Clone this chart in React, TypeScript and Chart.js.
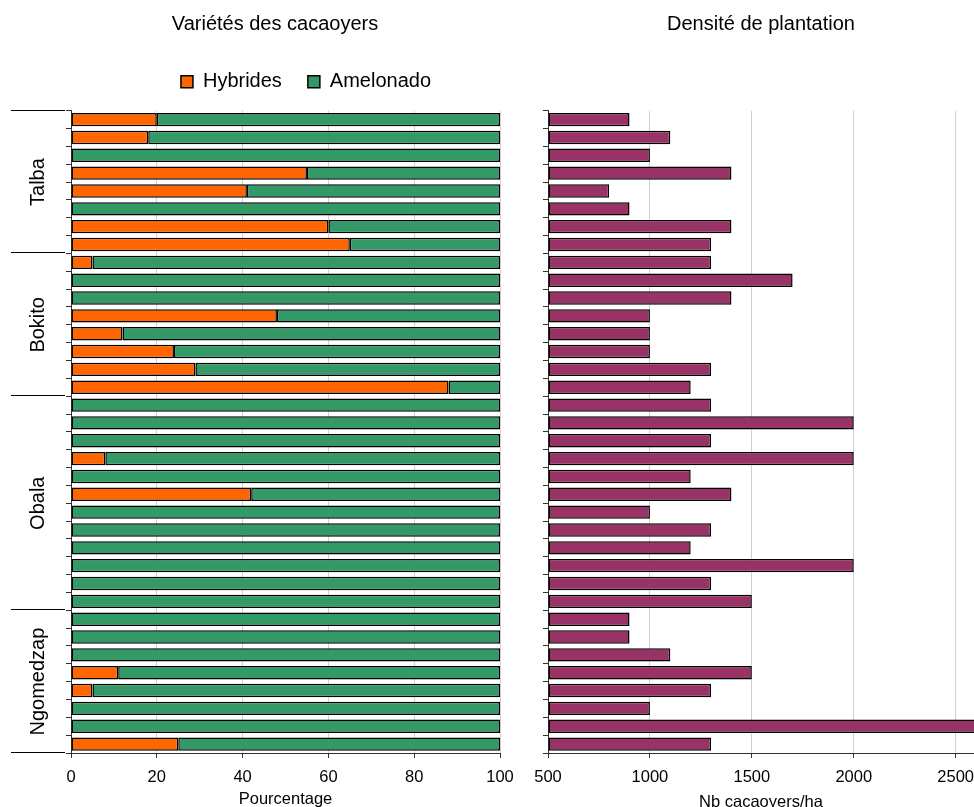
import { useEffect, useRef } from "react";
import { Chart, registerables } from "chart.js";

Chart.register(...registerables);

const FONT = "'Liberation Sans', Arial, Helvetica, sans-serif";
Chart.defaults.font.family = FONT;
Chart.defaults.color = "#000";

// ---- data ----
const groupNames = ["Talba", "Bokito", "Obala", "Ngomedzap"];
const groupSizes = [8, 8, 12, 8];

const categories = [
  "Talba 1", "Talba 2", "Talba 3", "Talba 4", "Talba 5", "Talba 6", "Talba 7", "Talba 8",
  "Bokito 1", "Bokito 2", "Bokito 3", "Bokito 4", "Bokito 5", "Bokito 6", "Bokito 7", "Bokito 8",
  "Obala 1", "Obala 2", "Obala 3", "Obala 4", "Obala 5", "Obala 6", "Obala 7", "Obala 8",
  "Obala 9", "Obala 10", "Obala 11", "Obala 12",
  "Ngomedzap 1", "Ngomedzap 2", "Ngomedzap 3", "Ngomedzap 4", "Ngomedzap 5", "Ngomedzap 6",
  "Ngomedzap 7", "Ngomedzap 8",
];

const hybrides = [
  20, 18, 0, 55, 41, 0, 60, 65,
  5, 0, 0, 48, 12, 24, 29, 88,
  0, 0, 0, 8, 0, 42, 0, 0, 0, 0, 0, 0,
  0, 0, 0, 11, 5, 0, 0, 25,
];

const amelonado = [
  80, 82, 100, 45, 59, 100, 40, 35,
  95, 100, 100, 52, 88, 76, 71, 12,
  100, 100, 100, 92, 100, 58, 100, 100, 100, 100, 100, 100,
  100, 100, 100, 89, 95, 100, 100, 75,
];

const density = [
  900, 1100, 1000, 1400, 800, 900, 1400, 1300,
  1300, 1700, 1400, 1000, 1000, 1000, 1300, 1200,
  1300, 2000, 1300, 2000, 1200, 1400, 1000, 1300, 1200, 2000, 1300, 1500,
  900, 900, 1100, 1500, 1300, 1000, 2700, 1300,
];

const pctTicks = [0, 20, 40, 60, 80, 100];
const densityTicks = [500, 1000, 1500, 2000, 2500];

// ---- plugins ----
const groupPlugin = {
  id: "groupLabels",
  afterDraw(chart: any) {
    const y = chart.scales.y;
    const { ctx, chartArea } = chart;
    ctx.save();
    ctx.strokeStyle = "#000";
    ctx.lineWidth = 1;
    const sep = (idx: number) => {
      const py = Math.round(y.getPixelForValue(idx - 0.5)) - 0.5;
      ctx.beginPath();
      ctx.moveTo(chartArea.left - 60, py);
      ctx.lineTo(chartArea.left - 6, py);
      ctx.stroke();
    };
    let start = 0;
    ctx.fillStyle = "#000";
    ctx.font = `20px ${FONT}`;
    ctx.textAlign = "center";
    ctx.textBaseline = "middle";
    groupNames.forEach((name, g) => {
      sep(start);
      const top = y.getPixelForValue(start - 0.5);
      const bottom = y.getPixelForValue(start + groupSizes[g] - 0.5);
      ctx.save();
      ctx.translate(chartArea.left - 33, (top + bottom) / 2);
      ctx.rotate(-Math.PI / 2);
      ctx.fillText(name, 0, 0);
      ctx.restore();
      start += groupSizes[g];
    });
    sep(start);
    ctx.restore();
  },
};

const legendShift = {
  id: "legendShift",
  afterLayout(chart: any, _args: any, opts: any) {
    const l = chart.legend;
    if (!l) return;
    const dx = opts.dx || 0;
    const dy = opts.dy || 0;
    l.left += dx;
    l.right += dx;
    l.top += dy;
    l.bottom += dy;
  },
};

const plainNumber = (v: any) => String(v);

export default function App() {
  const leftRef = useRef<HTMLCanvasElement>(null);
  const rightRef = useRef<HTMLCanvasElement>(null);

  useEffect(() => {
    if (!leftRef.current || !rightRef.current) return;

    const barCommon = {
      borderColor: "#000",
      borderWidth: 1.5,
      borderSkipped: false,
      barPercentage: 0.75,
      categoryPercentage: 1,
    };

    const left = new Chart(leftRef.current, {
      type: "bar",
      data: {
        labels: categories,
        datasets: [
          { label: "Hybrides", data: hybrides, backgroundColor: "#FF6600", ...barCommon },
          { label: "Amelonado", data: amelonado, backgroundColor: "#339966", ...barCommon },
        ],
      },
      options: {
        indexAxis: "y",
        responsive: false,
        animation: false,
        events: [],
        layout: { padding: { left: 50, right: 50, top: 0, bottom: 0 } },
        scales: {
          x: {
            stacked: true,
            min: 0,
            max: 100,
            afterBuildTicks: (s: any) => {
              s.ticks = pctTicks.map((v) => ({ value: v }));
            },
            ticks: { padding: 10, font: { size: 16.5 }, color: "#000", callback: plainNumber },
            grid: { color: "#d0d0d0", tickColor: "#333", tickLength: 5 },
            border: { color: "#333" },
            title: {
              display: true,
              text: "Pourcentage",
              color: "#000",
              font: { size: 16.5 },
              padding: { top: 0, bottom: -2 },
            },
            afterFit: (s: any) => {
              s.height = 54;
              s.paddingLeft = 0;
              s.paddingRight = 0;
            },
          },
          y: {
            stacked: true,
            ticks: { display: false },
            grid: { drawOnChartArea: false, color: "#333", tickLength: 5 },
            border: { color: "#333" },
            afterFit: (s: any) => {
              s.width = 21;
              s.paddingTop = 0;
              s.paddingBottom = 0;
            },
          },
        },
        plugins: {
          title: {
            display: true,
            text: "Variétés des cacaoyers",
            color: "#000",
            font: { size: 20, weight: "normal" },
            padding: { top: 12.5, bottom: 18.2 },
          },
          legend: {
            display: true,
            position: "top",
            labels: { boxWidth: 12, boxHeight: 12, padding: 26, font: { size: 20 }, color: "#000" },
          },
          tooltip: { enabled: false },
          legendShift: { dx: 31, dy: -9 },
        } as any,
      },
      plugins: [groupPlugin, legendShift],
    } as any);

    const right = new Chart(rightRef.current, {
      type: "bar",
      data: {
        labels: categories,
        datasets: [
          { label: "Nb cacaoyers/ha", data: density, base: 500, backgroundColor: "#993366", ...barCommon },
        ],
      },
      options: {
        indexAxis: "y",
        responsive: false,
        animation: false,
        events: [],
        layout: { padding: { left: 18, right: 0, top: 0, bottom: 0 } },
        scales: {
          x: {
            min: 500,
            max: 2590,
            afterBuildTicks: (s: any) => {
              s.ticks = densityTicks.map((v) => ({ value: v }));
            },
            ticks: { padding: 10, font: { size: 16.5 }, color: "#000", callback: plainNumber },
            grid: { color: "#d0d0d0", tickColor: "#333", tickLength: 5 },
            border: { color: "#333" },
            title: {
              display: true,
              text: "Nb cacaoyers/ha",
              color: "#000",
              font: { size: 16.5 },
              padding: { top: 0, bottom: -5 },
            },
            afterFit: (s: any) => {
              s.height = 54;
              s.paddingLeft = 0;
              s.paddingRight = 0;
            },
          },
          y: {
            ticks: { display: false },
            grid: { drawOnChartArea: false, color: "#333", tickLength: 5 },
            border: { color: "#333" },
            afterFit: (s: any) => {
              s.width = 0;
              s.paddingTop = 0;
              s.paddingBottom = 0;
            },
          },
        },
        plugins: {
          title: {
            display: true,
            text: "Densité de plantation",
            color: "#000",
            font: { size: 20, weight: "normal" },
            padding: { top: 12.5, bottom: 74.2 },
          },
          legend: { display: false },
          tooltip: { enabled: false },
        },
      },
    } as any);

    return () => {
      left.destroy();
      right.destroy();
    };
  }, []);

  return (
    <div
      style={{
        position: "fixed",
        left: 0,
        top: 0,
        width: 974,
        height: 807,
        overflow: "hidden",
        background: "#fff",
      }}
    >
      <canvas ref={leftRef} width={550} height={807} style={{ position: "absolute", left: 0, top: 0 }} />
      <canvas ref={rightRef} width={444} height={807} style={{ position: "absolute", left: 530, top: 0 }} />
    </div>
  );
}
